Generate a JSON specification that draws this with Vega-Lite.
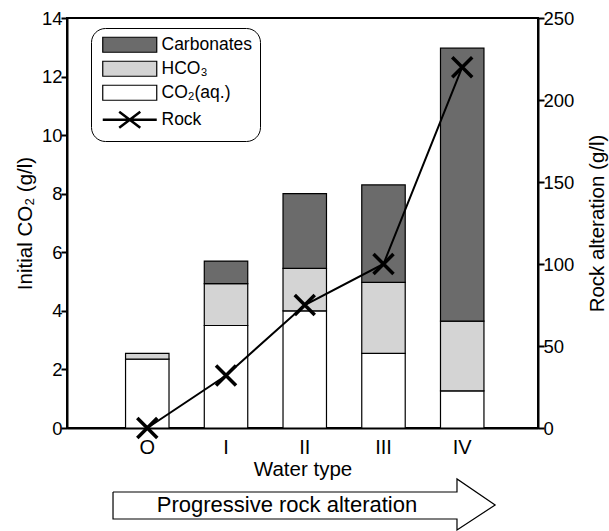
{
  "$schema": "https://vega.github.io/schema/vega-lite/v6.json",
  "width": 471,
  "height": 410,
  "autosize": {"type": "none"},
  "padding": {"left": 67, "top": 18, "right": 71, "bottom": 103},
  "config": {
    "font": "Liberation Sans",
    "view": {"stroke": "black", "strokeWidth": 2},
    "axis": {
      "labelFont": "Liberation Sans", "labelFontSize": 18.5, "labelColor": "black",
      "titleFont": "Liberation Sans", "titleFontSize": 20.5, "titleFontWeight": "normal", "titleColor": "black",
      "domainColor": "black", "domainWidth": 2, "tickColor": "black", "tickWidth": 2, "grid": false
    }
  },
  "layer": [
    {
      "layer": [
        {
          "data": {"values": [
            {"type": "O", "comp": "CO₂(aq.)", "ord": 1, "value": 2.35},
            {"type": "O", "comp": "HCO₃", "ord": 2, "value": 0.2},
            {"type": "I", "comp": "CO₂(aq.)", "ord": 1, "value": 3.5},
            {"type": "I", "comp": "HCO₃", "ord": 2, "value": 1.43},
            {"type": "I", "comp": "Carbonates", "ord": 3, "value": 0.77},
            {"type": "II", "comp": "CO₂(aq.)", "ord": 1, "value": 4.0},
            {"type": "II", "comp": "HCO₃", "ord": 2, "value": 1.45},
            {"type": "II", "comp": "Carbonates", "ord": 3, "value": 2.55},
            {"type": "III", "comp": "CO₂(aq.)", "ord": 1, "value": 2.55},
            {"type": "III", "comp": "HCO₃", "ord": 2, "value": 2.42},
            {"type": "III", "comp": "Carbonates", "ord": 3, "value": 3.33},
            {"type": "IV", "comp": "CO₂(aq.)", "ord": 1, "value": 1.27},
            {"type": "IV", "comp": "HCO₃", "ord": 2, "value": 2.38},
            {"type": "IV", "comp": "Carbonates", "ord": 3, "value": 9.32}
          ]},
          "mark": {"type": "bar", "stroke": "black", "strokeWidth": 1.2},
          "encoding": {
            "x": {"field": "type", "type": "nominal", "sort": ["O", "I", "II", "III", "IV"],
              "scale": {"paddingInner": 0.448, "paddingOuter": 0.715, "align": 0.52},
              "axis": {"title": "Water type", "labelAngle": 0, "ticks": false, "labelPadding": 9, "titlePadding": 2, "labelFontSize": 20}},
            "y": {"field": "value", "type": "quantitative", "stack": "zero",
              "scale": {"domain": [0, 14], "nice": false},
              "axis": {"title": "Initial CO₂ (g/l)", "values": [0, 2, 4, 6, 8, 10, 12, 14], "tickSize": 6, "labelPadding": -1, "titlePadding": 6,
                "encode": {"ticks": {"update": {"x2": {"value": 6}}}}}},
            "fill": {"field": "comp", "type": "nominal",
              "scale": {"domain": ["Carbonates", "HCO₃", "CO₂(aq.)", "Rock"], "range": ["#6b6b6b", "#d4d4d4", "#ffffff", "#000000"]},
              "legend": {
                "title": null, "orient": "none", "legendX": 24, "legendY": 10,
                "strokeColor": "black", "cornerRadius": 14, "padding": 8, "fillColor": "white",
                "labelFont": "Liberation Sans", "labelFontSize": 17.5, "labelColor": "black", "labelOffset": 23,
                "symbolSize": 2916, "symbolType": "M-1,-0.278H1V0.278H-1Z", "symbolOffset": 22,
                "symbolStrokeColor": "black", "symbolStrokeWidth": 1.2, "rowPadding": 3,
                "encode": {"symbols": {"update": {
                  "shape": {"signal": "datum.value === 'Rock' ? 'M-1,0H1M-0.39,-0.3L0.39,0.3M-0.39,0.3L0.39,-0.3' : 'M-1,-0.278H1V0.278H-1Z'"},
                  "strokeWidth": {"signal": "datum.value === 'Rock' ? 2.5 : 1.2"},
                  "stroke": {"value": "black"}
                }}}
              }},
            "order": {"field": "ord", "type": "quantitative"}
          }
        },
        {
          "data": {"values": [
            {"type": "O", "rock": 0},
            {"type": "I", "rock": 32},
            {"type": "II", "rock": 75},
            {"type": "III", "rock": 100},
            {"type": "IV", "rock": 220}
          ]},
          "encoding": {
            "x": {"field": "type", "type": "nominal", "sort": ["O", "I", "II", "III", "IV"]},
            "y": {"field": "rock", "type": "quantitative",
              "scale": {"domain": [0, 250], "nice": false},
              "axis": {"orient": "right", "title": "Rock alteration (g/l)", "values": [0, 50, 100, 150, 200, 250], "tickSize": 6, "labelPadding": -1, "titlePadding": 14, "titleAngle": 270, "titleBaseline": "top",
                "encode": {"ticks": {"update": {"x2": {"value": -6}}}}}}
          },
          "layer": [
            {"mark": {"type": "line", "stroke": "black", "strokeWidth": 2}},
            {"mark": {"type": "point", "shape": "M-1,-1L1,1M-1,1L1,-1", "size": 400, "filled": false, "stroke": "black", "strokeWidth": 3.5, "opacity": 1}}
          ]
        }
      ],
      "resolve": {"scale": {"y": "independent"}}
    },
    {
      "layer": [
        {
          "data": {"values": [
            {"i": 1, "ax": 9.77, "ay": -2.185},
            {"i": 2, "ax": 82.8, "ay": -2.185},
            {"i": 3, "ax": 82.8, "ay": -1.741},
            {"i": 4, "ax": 90.9, "ay": -2.629},
            {"i": 5, "ax": 82.8, "ay": -3.482},
            {"i": 6, "ax": 82.8, "ay": -3.107},
            {"i": 7, "ax": 9.77, "ay": -3.107},
            {"i": 8, "ax": 9.77, "ay": -2.185}
          ]},
          "mark": {"type": "line", "stroke": "black", "strokeWidth": 1.2, "clip": false},
          "encoding": {
            "x": {"field": "ax", "type": "quantitative", "scale": {"domain": [0, 100], "nice": false, "zero": false}, "axis": null},
            "y": {"field": "ay", "type": "quantitative", "scale": {"domain": [0, 14], "nice": false}, "axis": null},
            "order": {"field": "i", "type": "quantitative"}
          }
        },
        {
          "data": {"values": [{"label": "Progressive rock alteration", "ax": 46.7, "ay": -2.63}]},
          "mark": {"type": "text", "fontSize": 22, "font": "Liberation Sans", "color": "black", "align": "center", "baseline": "middle", "clip": false},
          "encoding": {
            "x": {"field": "ax", "type": "quantitative", "scale": {"domain": [0, 100], "nice": false, "zero": false}, "axis": null},
            "y": {"field": "ay", "type": "quantitative", "scale": {"domain": [0, 14], "nice": false}, "axis": null},
            "text": {"field": "label"}
          }
        }
      ]
    }
  ],
  "resolve": {"scale": {"x": "independent", "y": "independent"}}
}
